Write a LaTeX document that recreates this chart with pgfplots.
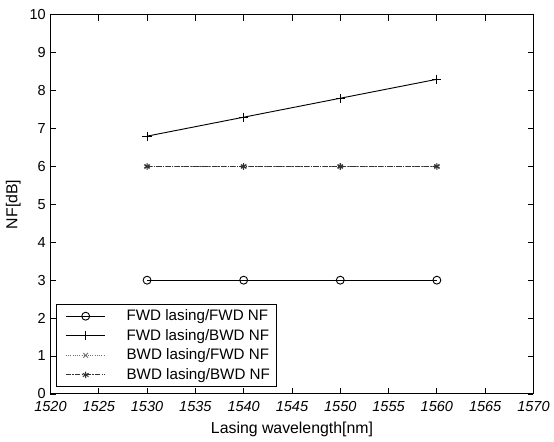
\documentclass[border=0pt]{standalone}
\usepackage{fontspec}
\setmainfont{Liberation Sans}
\usepackage{pgfplots}
\pgfplotsset{compat=1.18}
\begin{document}
\begin{tikzpicture}
\begin{axis}[
  scale only axis, width=366pt, height=287.25pt,
  xmin=1520, xmax=1570, ymin=0, ymax=10,
  xtick={1520,1525,...,1570}, ytick={0,1,...,10},
  tick align=inside, major tick length=4.5pt,
  xtick pos=both, ytick pos=both,
  tick style={black, line width=0.6pt},
  axis line style={black, line width=0.7pt},
  /pgf/number format/assume math mode=true,
  /pgf/number format/1000 sep={},
  tick label style={font=\fontsize{11}{13}\selectfont},
  xticklabel style={font=\fontsize{11}{13}\selectfont\itshape, yshift=-2pt},
  xlabel={Lasing wavelength[nm]}, ylabel={NF[dB]},
  label style={font=\fontsize{12}{14}\selectfont},
  xlabel style={yshift=-1pt}, ylabel style={yshift=0pt},
  legend style={at={(0.012,0.018)}, anchor=south west, draw=black, line width=0.6pt,
    font=\fontsize{11.5}{13.5}\selectfont, inner xsep=3pt, inner ysep=2pt,
    row sep=1pt, cells={anchor=west}},
  legend image code/.code={\draw[#1] (4pt,0pt) -- (19pt,0pt) plot coordinates {(19pt,0pt)} -- (34pt,0pt);
    \path[draw=none] (0pt,0pt) -- (48pt,0pt);},
  legend cell align=left,
]
\addplot[black, line width=0.7pt, mark=o, mark size=3pt, mark options={solid, line width=0.7pt}]
  coordinates {(1530,3) (1540,3) (1550,3) (1560,3)};
\addplot[black, line width=0.7pt, mark=+, mark size=3.5pt, mark options={solid}]
  coordinates {(1530,6.8) (1540,7.3) (1550,7.8) (1560,8.3)};
\addplot[black!55, line width=0.7pt, densely dotted, mark=x, mark size=2.5pt, mark options={solid}]
  coordinates {(1530,6) (1540,6) (1550,6) (1560,6)};
\addplot[black!80, line width=0.8pt, dash pattern=on 4pt off 1pt on 1pt off 1pt, mark=asterisk, mark size=2.5pt, mark options={solid}]
  coordinates {(1530,6) (1540,6) (1550,6) (1560,6)};
\legend{FWD lasing/FWD NF, FWD lasing/BWD NF, BWD lasing/FWD NF, BWD lasing/BWD NF}
\end{axis}
\path ([shift={(-38.25pt,-33.75pt)}]current axis.south west) rectangle ++(415.5pt,332.25pt);
\end{tikzpicture}
\end{document}
